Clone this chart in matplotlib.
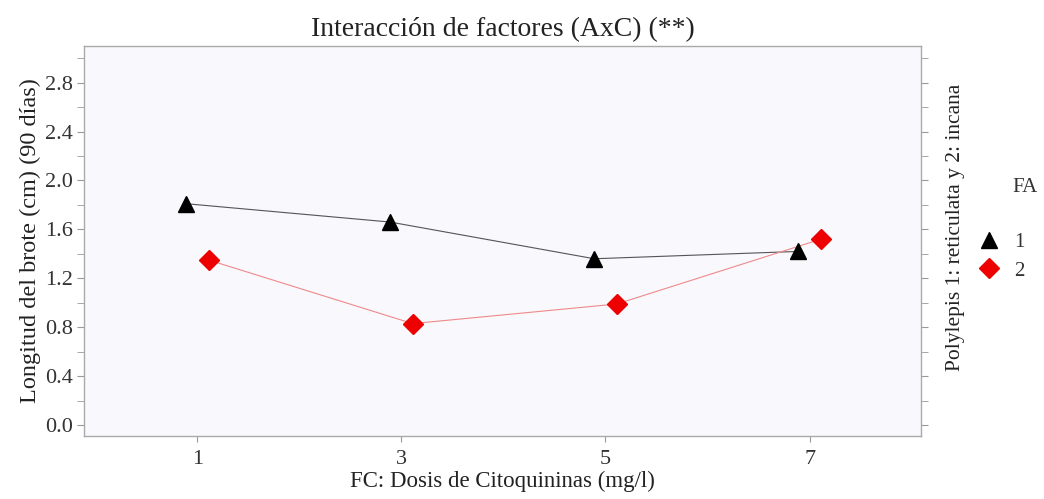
import matplotlib.pyplot as plt
from matplotlib.ticker import MultipleLocator
from matplotlib.lines import Line2D

# Datos: longitud del brote (cm) a los 90 días por dosis de citoquininas
dosis = [1, 3, 5, 7]
longitud_fa1 = [1.81, 1.66, 1.36, 1.42]   # Polylepis reticulata
longitud_fa2 = [1.35, 0.83, 0.99, 1.52]   # Polylepis incana
etiquetas_fa = ['1', '2']

plt.rcParams['font.family'] = ['Liberation Serif', 'DejaVu Serif']

fig = plt.figure(figsize=(10.44, 4.99), dpi=100)
ax = fig.add_axes([0.0805, 0.126, 0.8015, 0.782])
ax.set_facecolor('#f8f8fd')

desp = 0.11
x1 = [d - desp for d in dosis]
x2 = [d + desp for d in dosis]

ax.plot(x1, longitud_fa1, color='#555555', lw=0.8, zorder=2)
ax.plot(x2, longitud_fa2, color='#f08a8a', lw=0.8, zorder=2)
ax.plot(x1, longitud_fa1, ls='none', marker='^', ms=12, color='black', zorder=3)
ax.plot(x2, longitud_fa2, ls='none', marker='D', ms=10, color='#ee0000', zorder=3)

ax.set_xlim(-0.11, 8.09)
ax.set_ylim(-0.09, 3.1)
ax.set_xticks(dosis)
ax.yaxis.set_major_locator(MultipleLocator(0.4))
ax.yaxis.set_minor_locator(MultipleLocator(0.2))
ax.set_yticklabels([f'{v:.1f}' for v in ax.get_yticks()])
ax.set_ylim(-0.09, 3.1)

ax.tick_params(axis='both', which='both', colors='#999999', labelcolor='#333333',
               labelsize=16, direction='out')
ax.tick_params(axis='y', which='both', length=5, pad=3)
ax.tick_params(axis='x', length=4, pad=6)
ax.tick_params(axis='y', which='both', right=True, labelright=False)

for s in ax.spines.values():
    s.set_color('#aaaaaa')
    s.set_linewidth(1.0)

ax.set_title('Interacción de factores (AxC) (**)', fontsize=20, color='#222222', pad=7)
ax.set_xlabel('FC: Dosis de Citoquininas (mg/l)', fontsize=16.5, color='#222222', labelpad=1)
ax.set_ylabel('Longitud del brote (cm) (90 días)', fontsize=17.5, color='#222222', labelpad=3)

fig.text(0.915, 0.545, 'Polylepis 1: reticulata y 2: incana', rotation=90,
         ha='center', va='center', fontsize=15.5, color='#222222')

# Leyenda del factor A (especie)
fig.text(0.982, 0.625, 'FA', ha='center', va='center', fontsize=15, color='#333333')
handles = [Line2D([], [], ls='none', marker='^', ms=12, color='black'),
           Line2D([], [], ls='none', marker='D', ms=10, color='#ee0000')]
leg = fig.legend(handles, etiquetas_fa, loc='center', bbox_to_anchor=(0.958, 0.486),
                 frameon=False, fontsize=15, labelspacing=0.45, handletextpad=0.6,
                 handlelength=1.2)
for t in leg.get_texts():
    t.set_color('#333333')

fig.savefig('out.png', dpi=100)
